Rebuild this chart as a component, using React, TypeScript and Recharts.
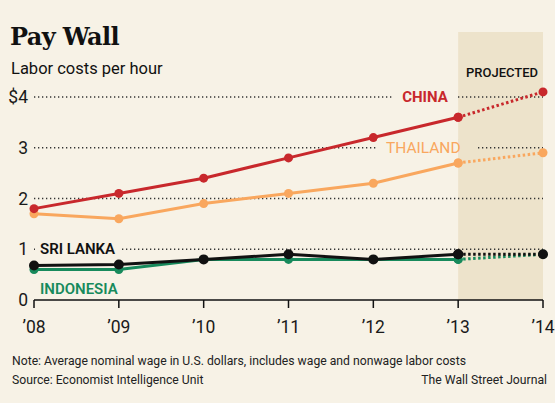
import React from "react";
import { LineChart, Line, XAxis, YAxis, ReferenceLine, ReferenceArea } from "recharts";

const years = ["’08", "’09", "’10", "’11", "’12", "’13", "’14"];
const china = [1.8, 2.1, 2.4, 2.8, 3.2, 3.6, 4.1];
const thailand = [1.7, 1.6, 1.9, 2.1, 2.3, 2.7, 2.9];
const sriLanka = [0.68, 0.7, 0.8, 0.9, 0.8, 0.9, 0.9];
const indonesia = [0.6, 0.6, 0.8, 0.8, 0.8, 0.8, 0.9];
const yTicks = [0, 1, 2, 3, 4];
const gridValues = [1, 2, 3, 4];
const projectedStart = 5;

const BG = "#f7f2e6";
const BAND = "#ede3cb";
const RED = "#c8282c";
const ORANGE = "#f9a75e";
const GREEN = "#178a5c";
const BLACK = "#111111";

const split = (arr: number[], i: number) => ({
  a: i <= projectedStart ? arr[i] : null,
  p: i >= projectedStart ? arr[i] : null,
});

const data = years.map((year, i) => {
  const c = split(china, i);
  const t = split(thailand, i);
  const s = split(sriLanka, i);
  const n = split(indonesia, i);
  return {
    year,
    chinaA: c.a, chinaP: c.p,
    thaiA: t.a, thaiP: t.p,
    sriA: s.a, sriP: s.p,
    indoA: n.a, indoP: n.p,
  };
});

const FONT = "Roboto, 'Noto Sans', sans-serif";

export default function App() {
  const lineProps = (key: string, color: string, r: number, dashed: boolean) => (
    <Line
      key={key}
      dataKey={key}
      type="linear"
      stroke={color}
      strokeWidth={3}
      strokeDasharray={dashed ? "2.5 2.5" : undefined}
      dot={{ r, fill: color, stroke: "none" }}
      activeDot={false}
      isAnimationActive={false}
    />
  );
  return (
    <div style={{ position: "absolute", left: 0, top: 0, width: 555, height: 403, background: BG, overflow: "hidden", fontFamily: FONT }}>
      <LineChart width={555} height={403} data={data} margin={{ top: 32, right: 12, bottom: 63, left: 0 }}>
        <ReferenceArea x1={years[5]} x2={years[6]} y1={0} y2={5.28} fill={BAND} fillOpacity={1} stroke="none" ifOverflow="visible" />
        {gridValues.map((v) => (
          <ReferenceLine key={v} y={v} stroke="#333" strokeWidth={1.4} strokeDasharray="1.3 2.7" />
        ))}
        <XAxis
          dataKey="year"
          height={40}
          axisLine={{ stroke: "#111", strokeWidth: 1.5 }}
          tickLine={{ stroke: "#111", strokeWidth: 1.5 }}
          tickSize={8}
          tickMargin={13}
          tick={{ fill: "#1a1a1a", fontSize: 17.5, fontFamily: FONT }}
          interval={0}
        />
        <YAxis
          width={34}
          domain={[0, 5.28]}
          ticks={yTicks}
          axisLine={false}
          tickLine={false}
          tickMargin={0}
          tickFormatter={(v: number) => (v === 4 ? "$4" : String(v))}
          tick={{ fill: "#1a1a1a", fontSize: 17.5, fontFamily: FONT }}
        />
        {lineProps("indoA", GREEN, 4.5, false)}
        {lineProps("indoP", GREEN, 4.5, true)}
        {lineProps("sriA", BLACK, 5, false)}
        {lineProps("sriP", BLACK, 5, true)}
        {lineProps("thaiA", ORANGE, 4.5, false)}
        {lineProps("thaiP", ORANGE, 4.5, true)}
        {lineProps("chinaA", RED, 4.5, false)}
        {lineProps("chinaP", RED, 4.5, true)}
      </LineChart>

      <div style={{ position: "absolute", left: 10, top: 22, fontFamily: "'DejaVu Serif', serif", fontWeight: 700, fontSize: 24, lineHeight: "30px", color: "#111", letterSpacing: -0.6 }}>
        Pay Wall
      </div>
      <div style={{ position: "absolute", left: 11, top: 59, fontSize: 16.5, lineHeight: "20px", color: "#111" }}>
        Labor costs per hour
      </div>
      <div style={{ position: "absolute", left: 466, top: 65, fontSize: 13, lineHeight: "16px", color: "#111", fontWeight: 500 }}>
        PROJECTED
      </div>

      <div style={{ position: "absolute", left: 392, top: 88, width: 66, height: 18, background: BG, display: "flex", alignItems: "center", justifyContent: "center", color: RED, fontWeight: 700, fontSize: 15 }}>
        CHINA
      </div>
      <div style={{ position: "absolute", left: 377, top: 139, width: 82, height: 18, background: BG }} />
      <div style={{ position: "absolute", left: 458, top: 139, width: 20, height: 18, background: BAND }} />
      <div style={{ position: "absolute", left: 386, top: 139, height: 18, display: "flex", alignItems: "center", color: ORANGE, fontSize: 15.5 }}>
        THAILAND
      </div>
      <div style={{ position: "absolute", left: 35, top: 240, width: 85, height: 18, background: BG, display: "flex", alignItems: "center", paddingLeft: 5, boxSizing: "border-box", color: "#111", fontWeight: 600, fontSize: 15 }}>
        SRI LANKA
      </div>
      <div style={{ position: "absolute", left: 40, top: 280, height: 18, display: "flex", alignItems: "center", color: GREEN, fontWeight: 600, fontSize: 15 }}>
        INDONESIA
      </div>

      <div style={{ position: "absolute", left: 12, top: 353, fontSize: 12.2, lineHeight: "16px", color: "#222" }}>
        Note: Average nominal wage in U.S. dollars, includes wage and nonwage labor costs
      </div>
      <div style={{ position: "absolute", left: 12, top: 372, fontSize: 12.2, lineHeight: "16px", color: "#222" }}>
        Source: Economist Intelligence Unit
      </div>
      <div style={{ position: "absolute", right: 8, top: 372, fontSize: 12.2, lineHeight: "16px", color: "#222" }}>
        The Wall Street Journal
      </div>
    </div>
  );
}
